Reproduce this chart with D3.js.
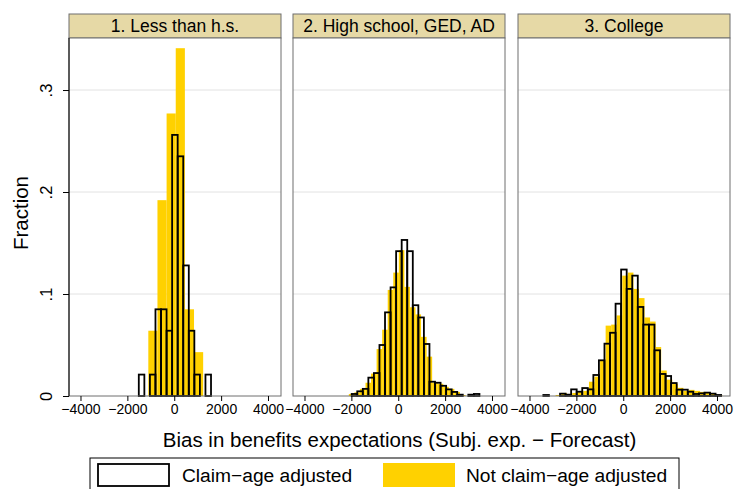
<!DOCTYPE html>
<html>
<head>
<meta charset="utf-8">
<script src="https://cdn.jsdelivr.net/npm/d3@7"></script>
<style>
  html, body { margin: 0; padding: 0; background: #fff; }
  svg { display: block; font-family: "Liberation Sans", Arial, Helvetica, sans-serif; }
</style>
</head>
<body>
<svg id="chart" width="735" height="489"></svg>
<script>
// ---------------- DATA ----------------
const panelTitles = ["1. Less than h.s.", "2. High school, GED, AD", "3. College"];
const xTicks = [-4000, -2000, 0, 2000, 4000];
const yTicks = [0, 0.1, 0.2, 0.3];
const yTickLabels = ["0", ".1", ".2", ".3"];
const xTitle = "Bias in benefits expectations (Subj. exp. \u2212 Forecast)";
const yTitle = "Fraction";
const seriesNames = ["Claim\u2212age adjusted", "Not claim\u2212age adjusted"];

// Claim-age adjusted (outlined bars): common bin width, first bin lower edge per panel
const adjWidth = 237;
const adjStart = [-1512, -1986, -3408];
const adjFrac1 = [0.021, 0, 0.021, 0.085, 0.085, 0.064, 0.256, 0.235, 0.128, 0.064, 0.021, 0, 0.021];
const adjFrac2 = [0.002, 0.0046, 0.007, 0.018, 0.0225, 0.05, 0.082, 0.1065, 0.142, 0.153, 0.142, 0.089,
                  0.077, 0.051, 0.014, 0.013, 0.010, 0.0065, 0.004, 0.0013, 0, 0.0013, 0.002];
const adjFrac3 = [0.001, 0, 0, 0.0023, 0.0013, 0.0065, 0.0042, 0.0078, 0.0065, 0.0206, 0.035, 0.0513,
                  0.062, 0.0905, 0.124, 0.105, 0.118, 0.0873, 0.070, 0.070, 0.0448, 0.0216, 0.0196,
                  0.0127, 0.0062, 0.0062, 0.0042, 0.002, 0.0026, 0.0033, 0.0023, 0.001];

// Not claim-age adjusted (filled bars)
const rawWidth = [390, 237, 237];
const rawStart = [-1106, -2108, -2884];
const rawFrac1 = [0.064, 0.192, 0.277, 0.341, 0.085, 0.043];
const rawFrac2 = [0.002, 0.0036, 0.007, 0.013, 0.022, 0.046, 0.065, 0.104, 0.121, 0.143, 0.107, 0.087,
                  0.080, 0.058, 0.0386, 0.013, 0.012, 0.009, 0.007, 0.004, 0.001];
const rawFrac3 = [0.001, 0.003, 0.002, 0.003, 0.004, 0.005, 0.014, 0.019, 0.035, 0.069, 0.07, 0.079,
                  0.118, 0.121, 0.105, 0.096, 0.077, 0.073, 0.048, 0.025, 0.016, 0.012, 0.008, 0.005,
                  0.006, 0.005, 0.004, 0.003, 0.002, 0.001];

const adjFracs = [adjFrac1, adjFrac2, adjFrac3];
const rawFracs = [rawFrac1, rawFrac2, rawFrac3];

// ---------------- LAYOUT ----------------
const svg = d3.select("#chart");
const panelLeft = [69, 293, 518];
const panelW = 212;
const headTop = 14, plotTop = 38, plotBottom = 396;
const yellow = "#ffd100";
const frameColor = "#6e6e6e";
const FONT = "Liberation Sans, Arial, sans-serif";

// use a narrow face for the crowded x tick labels when one is installed
const ctx = document.createElement("canvas").getContext("2d");
function textW(font) { ctx.font = font; return ctx.measureText("\u22124000").width; }
const regularW = textW("16px 'Liberation Sans'");
const narrowW = textW("16px 'Liberation Sans Narrow', 'Liberation Sans'");
const haveNarrow = narrowW < regularW * 0.95;
const tickFont = haveNarrow ? "'Liberation Sans Narrow', 'Liberation Sans', sans-serif" : FONT;
const tickSize = haveNarrow ? 16.5 : 14;

const y = d3.scaleLinear().domain([0, 0.351]).range([plotBottom, plotTop]);

function bins(start, width, fracs) {
  return fracs.map((f, i) => ({ x0: start + i * width, x1: start + (i + 1) * width, f }))
              .filter(d => d.f > 0);
}

panelTitles.forEach((title, p) => {
  const x = d3.scaleLinear().domain([-4490, 4555]).range([panelLeft[p], panelLeft[p] + panelW]);
  const g = svg.append("g");

  // header strip
  g.append("rect").attr("x", panelLeft[p]).attr("y", headTop)
    .attr("width", panelW).attr("height", plotTop - headTop)
    .attr("fill", "#e6d9a6").attr("stroke", frameColor).attr("stroke-width", 1);
  g.append("text").attr("x", panelLeft[p] + panelW / 2).attr("y", (headTop + plotTop) / 2 + 6.3)
    .attr("text-anchor", "middle").attr("font-size", 17.5).attr("fill", "#000").text(title);

  // plot region
  g.append("rect").attr("x", panelLeft[p]).attr("y", plotTop)
    .attr("width", panelW).attr("height", plotBottom - plotTop)
    .attr("fill", "#fff");

  // grid
  g.selectAll(".grid").data(yTicks.filter(t => t > 0)).join("line")
    .attr("x1", panelLeft[p]).attr("x2", panelLeft[p] + panelW)
    .attr("y1", d => y(d)).attr("y2", d => y(d))
    .attr("stroke", "#e2e2e2").attr("stroke-width", 1);

  // filled bars
  g.selectAll(".raw").data(bins(rawStart[p], rawWidth[p], rawFracs[p])).join("rect")
    .attr("x", d => x(d.x0)).attr("width", d => x(d.x1) - x(d.x0))
    .attr("y", d => y(d.f)).attr("height", d => y(0) - y(d.f))
    .attr("fill", yellow);

  // outlined bars
  g.selectAll(".adj").data(bins(adjStart[p], adjWidth, adjFracs[p])).join("rect")
    .attr("x", d => x(d.x0)).attr("width", d => x(d.x1) - x(d.x0))
    .attr("y", d => y(d.f)).attr("height", d => y(0) - y(d.f))
    .attr("fill", "none").attr("stroke", "#000").attr("stroke-width", 1.8);

  // frame
  g.append("rect").attr("x", panelLeft[p]).attr("y", plotTop)
    .attr("width", panelW).attr("height", plotBottom - plotTop)
    .attr("fill", "none").attr("stroke", frameColor).attr("stroke-width", 1);

  // x axis
  const xa = svg.append("g").attr("transform", `translate(0,${plotBottom})`)
    .call(d3.axisBottom(x).tickValues(xTicks).tickSize(5).tickPadding(3)
      .tickFormat(d => d3.format("d")(d).replace("-", "\u2212")));
  xa.select(".domain").remove();
  xa.selectAll(".tick line").attr("stroke", "#000");
  xa.selectAll(".tick text").attr("font-size", tickSize).attr("fill", "#000").attr("font-family", tickFont);
});

// y axis
const ya = svg.append("g").attr("transform", `translate(${panelLeft[0]},0)`)
  .call(d3.axisLeft(y).tickValues(yTicks).tickSize(6).tickPadding(0)
    .tickFormat((d, i) => yTickLabels[i]));
ya.select(".domain").attr("d", `M0,${plotTop}V${plotBottom}`).attr("stroke", "#000");
ya.selectAll(".tick line").attr("stroke", "#000");
ya.selectAll(".tick text").attr("font-size", 16.5).attr("fill", "#000").attr("font-family", FONT)
  .attr("text-anchor", "middle").attr("x", -23).attr("y", 6).attr("dy", 0)
  .attr("transform", "rotate(-90,-23,0)");

// axis titles
svg.append("text").attr("x", (panelLeft[0] + panelLeft[2] + panelW) / 2).attr("y", 447)
  .attr("text-anchor", "middle").attr("font-size", 20.5).attr("fill", "#000").text(xTitle);
svg.append("text").attr("transform", `translate(28,${(plotTop + plotBottom) / 2 - 4}) rotate(-90)`)
  .attr("text-anchor", "middle").attr("font-size", 20.5).attr("fill", "#000").text(yTitle);

// legend
const lg = svg.append("g");
lg.append("rect").attr("x", 90).attr("y", 458).attr("width", 589).attr("height", 40)
  .attr("fill", "#fff").attr("stroke", "#000").attr("stroke-width", 1);
lg.append("rect").attr("x", 98).attr("y", 464).attr("width", 71).attr("height", 22)
  .attr("fill", "#fff").attr("stroke", "#000").attr("stroke-width", 1.8);
lg.append("text").attr("x", 182).attr("y", 482).attr("font-size", 19.2).attr("fill", "#000").text(seriesNames[0]);
lg.append("rect").attr("x", 383).attr("y", 463).attr("width", 72).attr("height", 24)
  .attr("fill", yellow);
lg.append("text").attr("x", 466).attr("y", 482).attr("font-size", 19.2).attr("fill", "#000").text(seriesNames[1]);
</script>
</body>
</html>
